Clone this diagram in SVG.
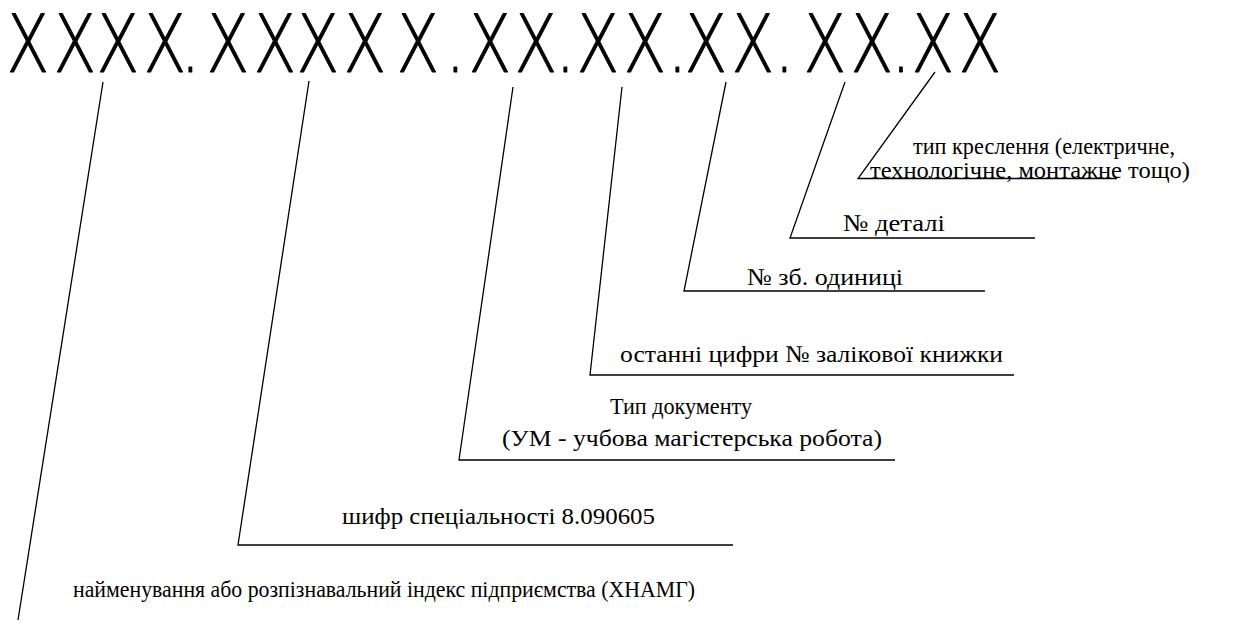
<svg xmlns="http://www.w3.org/2000/svg" width="1243" height="626" viewBox="0 0 1243 626">
<style>
.code{font-family:"DejaVu Sans","Liberation Sans",sans-serif;font-weight:200;font-size:81px;fill:#000;stroke:#000;stroke-width:0.9;stroke-linejoin:round}
.lbl{font-family:"Liberation Serif","Times New Roman",serif;font-size:24px;fill:#000}
.ln{fill:none;stroke:#000;stroke-width:1.3}
</style>
<rect width="1243" height="626" fill="#fff"/>
<g id="code">
<text class="code" transform="scale(0.77,1)" y="72" x="8.5 69.5 125.4 186.4 234.5 268.2 329.3 385.1 446.2 515.0 578.6 608.5 668.2 721.5 748.7 809.7 866.9 889.0 950.0 1005.9 1043.6 1104.6 1157.1 1183.8 1244.8">XXXX.XXXXX.XX.XX.XX.XX.XX</text>
</g>
<g id="connectors">
<polyline class="ln" points="103,82 18,620"/>
<polyline class="ln" points="309,81 238,545 733,545"/>
<polyline class="ln" points="513,87 459,460 895,460"/>
<polyline class="ln" points="622,87 590,375 1014,375"/>
<polyline class="ln" points="726,82 684,291 985,291"/>
<polyline class="ln" points="845,82 790,238 1035,238"/>
<polyline class="ln" points="935,72 858,178.5 1117,178.5"/>
</g>
<g id="n1"><text class="lbl" x="73" y="597" textLength="622" lengthAdjust="spacingAndGlyphs">найменування або розпізнавальний індекс підприємства (ХНАМГ)</text></g>
<g id="n2"><text class="lbl" x="342" y="524" textLength="313" lengthAdjust="spacingAndGlyphs">шифр спеціальності 8.090605</text></g>
<g id="n3"><text class="lbl" x="610" y="414" textLength="142" lengthAdjust="spacingAndGlyphs">Тип документу</text><text class="lbl" x="502" y="446" textLength="380" lengthAdjust="spacingAndGlyphs">(УМ - учбова магістерська робота)</text></g>
<g id="n4"><text class="lbl" x="620" y="362" textLength="383" lengthAdjust="spacingAndGlyphs">останні цифри № залікової книжки</text></g>
<g id="n5"><text class="lbl" x="747" y="285" textLength="156" lengthAdjust="spacingAndGlyphs">№ зб. одиниці</text></g>
<g id="n6"><text class="lbl" x="843" y="231" textLength="102" lengthAdjust="spacingAndGlyphs">№ деталі</text></g>
<g id="n7"><text class="lbl" x="913" y="154" textLength="262" lengthAdjust="spacingAndGlyphs">тип креслення (електричне,</text><text class="lbl" x="870" y="178" textLength="320" lengthAdjust="spacingAndGlyphs">технологічне, монтажне тощо)</text></g>
</svg>
